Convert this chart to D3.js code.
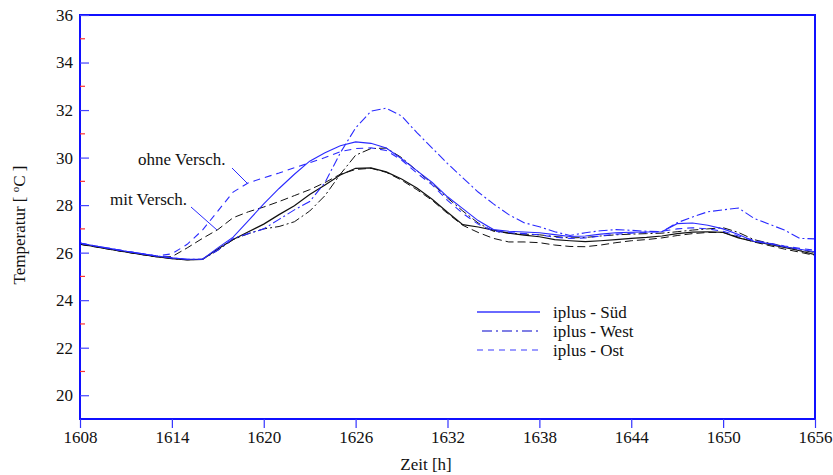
<!DOCTYPE html>
<html><head><meta charset="utf-8">
<script src="https://cdn.jsdelivr.net/npm/d3@7"></script>
<style>body{margin:0;background:#fff}svg{display:block}text{font-family:"Liberation Serif","Times New Roman",serif;fill:#111}</style>
</head><body><svg id="c" width="833" height="475"></svg>
<script>
const hours = d3.range(1608, 1657);
const xTicks = [1608,1614,1620,1626,1632,1638,1644,1650,1656];
const yTicks = [20,22,24,26,28,30,32,34,36];
const yMinor = [21,23,25,27,29,31,33,35];

// ohne Verschattung (blue)
const sudOhne = [26.40,26.28,26.17,26.06,25.96,25.86,25.78,25.72,25.72,26.20,26.65,27.35,28.05,28.70,29.30,29.85,30.20,30.50,30.66,30.60,30.40,29.95,29.45,28.95,28.35,27.85,27.35,26.97,26.90,26.87,26.84,26.76,26.68,26.70,26.78,26.84,26.86,26.87,26.88,27.22,27.25,27.15,27.00,26.76,26.48,26.38,26.25,26.14,26.04];
const westOhne = [26.40,26.28,26.17,26.06,25.96,25.86,25.78,25.72,25.72,26.10,26.60,26.80,27.00,27.40,27.80,28.15,28.95,30.20,31.25,31.95,32.08,31.75,31.05,30.40,29.75,29.15,28.55,28.05,27.60,27.26,27.09,26.88,26.72,26.84,26.92,26.97,26.94,26.90,26.88,27.26,27.50,27.72,27.80,27.88,27.45,27.20,26.95,26.60,26.58];
const ostOhne = [26.40,26.28,26.17,26.06,25.96,25.86,25.95,26.35,26.95,27.75,28.55,28.94,29.15,29.35,29.57,29.78,30.00,30.25,30.38,30.41,30.30,29.90,29.35,28.85,28.20,27.65,27.20,26.90,26.85,26.80,26.75,26.65,26.60,26.62,26.70,26.78,26.82,26.85,26.90,27.00,27.05,27.00,26.90,26.70,26.52,26.40,26.28,26.18,26.10];
// mit Verschattung (black)
const sudMit = [26.36,26.25,26.14,26.03,25.93,25.83,25.75,25.70,25.72,26.15,26.55,26.88,27.20,27.60,27.97,28.45,28.85,29.27,29.55,29.57,29.40,29.10,28.72,28.25,27.70,27.18,27.08,26.95,26.82,26.74,26.67,26.55,26.50,26.46,26.50,26.55,26.60,26.64,26.70,26.80,26.86,26.88,26.85,26.62,26.47,26.35,26.22,26.08,25.92];
const westMit = [26.36,26.25,26.14,26.03,25.93,25.83,25.75,25.70,25.72,26.10,26.55,26.80,27.00,27.10,27.30,27.75,28.40,29.30,30.10,30.38,30.40,30.00,29.45,28.90,28.30,27.75,27.25,26.90,26.82,26.78,26.75,26.68,26.62,26.64,26.70,26.75,26.78,26.80,26.82,26.88,26.95,27.00,27.05,26.85,26.55,26.40,26.26,26.12,26.00];
const ostMit = [26.35,26.24,26.13,26.02,25.92,25.82,25.83,26.20,26.60,26.97,27.47,27.72,27.92,28.15,28.40,28.65,28.95,29.30,29.50,29.55,29.38,29.05,28.65,28.20,27.65,27.15,26.85,26.60,26.45,26.45,26.42,26.32,26.26,26.25,26.32,26.42,26.50,26.55,26.62,26.72,26.80,26.85,26.85,26.65,26.45,26.30,26.15,26.02,25.88];

const legendLabels = ["iplus - Süd","iplus - West","iplus - Ost"];

const series = [
  {v: sudMit, color:"#111", dash:null, w:1.2},
  {v: westMit, color:"#111", dash:"9,3,2,3", w:1},
  {v: ostMit, color:"#111", dash:"8,4", w:1},
  {v: sudOhne, color:"#2a2aff", dash:null, w:1.1},
  {v: westOhne, color:"#2a2aff", dash:"9,3,2,3", w:1.1},
  {v: ostOhne, color:"#2a2aff", dash:"7,5", w:1.1},
];

const svg = d3.select("#c");
const L=80, R=815, T=15, B=419;
const x = d3.scaleLinear().domain([1608,1656]).range([L,R]);
const y = d3.scaleLinear().domain([19,36]).range([B,T]);

svg.append("clipPath").attr("id","clip").append("rect").attr("x",L).attr("y",T).attr("width",R-L).attr("height",B-T);

const line = d3.line().x((d,i)=>x(hours[i])).y(d=>y(d));
const g = svg.append("g").attr("clip-path","url(#clip)");
series.forEach(s=>{
  g.append("path").attr("d",line(s.v)).attr("fill","none").attr("stroke",s.color)
   .attr("stroke-width",s.w).attr("stroke-dasharray",s.dash);
});

// frame
svg.append("rect").attr("x",L).attr("y",T).attr("width",R-L).attr("height",B-T)
  .attr("fill","none").attr("stroke","#1010ff").attr("stroke-width",2);

// x axis
const xAxis = d3.axisBottom(x).tickValues(xTicks).tickSize(9).tickFormat(d3.format("d"));
const xa = svg.append("g").attr("transform",`translate(0,${B})`).call(xAxis);
xa.select(".domain").remove();
xa.selectAll("line").attr("stroke","#3333ff").attr("stroke-width",1.2);
xa.selectAll("text").attr("font-size",17).attr("dy",0).attr("y",24).attr("fill","#111");

// y axis
const yAxis = d3.axisLeft(y).tickValues(yTicks).tickSize(-9).tickPadding(16);
const ya = svg.append("g").attr("transform",`translate(${L},0)`).call(yAxis);
ya.select(".domain").remove();
ya.selectAll("line").attr("stroke","#4444ff").attr("stroke-width",1.2);
ya.selectAll("text").attr("font-size",17).attr("x",-7).attr("fill","#111");
svg.append("g").selectAll("line").data(yMinor).join("line")
  .attr("x1",L).attr("x2",L+5).attr("y1",d=>y(d)).attr("y2",d=>y(d))
  .attr("stroke","#ff3030").attr("stroke-width",1.2);

// axis titles
svg.append("text").attr("x",426).attr("y",470).attr("text-anchor","middle").attr("font-size",17).text("Zeit [h]");
const yt = svg.append("text").attr("transform","translate(25,225) rotate(-90)").attr("text-anchor","middle").attr("font-size",17);
yt.append("tspan").text("Temperatur [ ");
yt.append("tspan").attr("font-size",11).attr("dy",-6).text("o");
yt.append("tspan").attr("dy",6).text("C ]");

// annotations
svg.append("text").attr("x",138).attr("y",165).attr("font-size",17).text("ohne Versch.");
svg.append("text").attr("x",110).attr("y",205).attr("font-size",17).text("mit Versch.");
svg.append("line").attr("x1",232).attr("y1",168).attr("x2",247).attr("y2",183).attr("stroke","#2a2aff").attr("stroke-width",1);
svg.append("line").attr("x1",191).attr("y1",207).attr("x2",217).attr("y2",230).attr("stroke","#2a2aff").attr("stroke-width",1);

// legend
const legStyles = [
  {color:"#6a6aff", dash:null, w:1.8, x1:477, x2:540},
  {color:"#0000cc", dash:"10,4,2,4", w:1.2, x1:482, x2:538},
  {color:"#3a3aff", dash:"6,5", w:1.2, x1:477, x2:540},
];
const legY = [312, 331, 350];
legendLabels.forEach((lab,i)=>{
  const st = legStyles[i];
  svg.append("line").attr("x1",st.x1).attr("x2",st.x2).attr("y1",legY[i]).attr("y2",legY[i])
    .attr("stroke",st.color).attr("stroke-width",st.w).attr("stroke-dasharray",st.dash);
  svg.append("text").attr("x",553).attr("y",legY[i]+5.5).attr("font-size",17).text(lab);
});
</script></body></html>
